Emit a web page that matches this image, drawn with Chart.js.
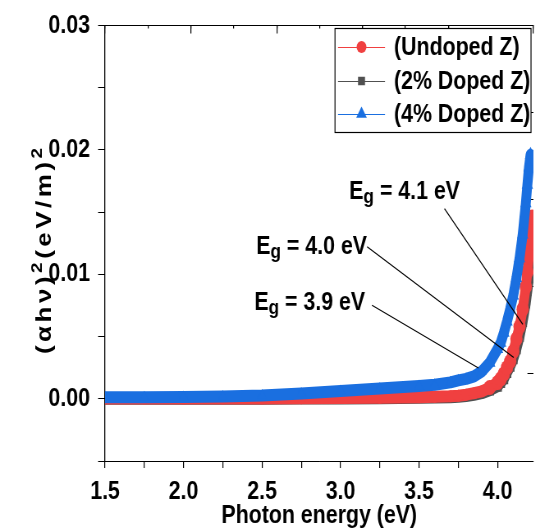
<!DOCTYPE html>
<html>
<head>
<meta charset="UTF-8">
<title>Tauc plot</title>
<style>
  html, body { margin: 0; padding: 0; overflow: hidden; background: #fff; }
  #wrap { width: 540px; height: 528px; }
</style>
</head>
<body>
<!-- drawn 658 px wide, shown 540 px wide: the figure is squeezed to 82% like the original -->
<div id="wrap"><canvas id="taucChart" width="658" height="528" style="width:540px;height:528px"></canvas></div>
<script src="https://cdn.jsdelivr.net/npm/chart.js/dist/chart.umd.min.js"></script>
<script>
// photon energy (eV), shared by the three samples
const energy = [1.5, 1.75, 2.0, 2.25, 2.5, 2.75, 3.0, 3.25, 3.5, 3.6, 3.7, 3.75, 3.8, 3.85, 3.9, 3.95,
                4.0, 4.02, 4.04, 4.06, 4.08, 4.10, 4.12, 4.14, 4.16, 4.18, 4.19, 4.20, 4.21, 4.22];

// (ahv)^2
const undoped = [0.00002, 0.00002, 0.00002, 0.00003, 0.00003, 0.00004, 0.00006, 0.00009, 0.00013, 0.00016,
                 0.0002, 0.00025, 0.00033, 0.00045, 0.0006, 0.0009, 0.0013, 0.0016, 0.0020, 0.0025,
                 0.0030, 0.0038, 0.0048, 0.0058, 0.0072, 0.0090, 0.0102, 0.0115, 0.0132, 0.0146];
const doped2 = [0.0, 0.0, 0.0, 0.00001, 0.00001, 0.00002, 0.00003, 0.00005, 0.00008, 0.0001,
                0.00013, 0.00016, 0.00022, 0.00032, 0.00045, 0.00068, 0.0010, 0.0013, 0.0016, 0.0021,
                0.0026, 0.0032, 0.0040, 0.0050, 0.0062, 0.0077, 0.0087, 0.0097, 0.0109, 0.0121];
const doped4 = [0.00012, 0.00013, 0.00015, 0.00019, 0.00026, 0.00042, 0.00062, 0.00082, 0.00102, 0.00113,
                0.00132, 0.00148, 0.0016, 0.0018, 0.0022, 0.0029, 0.0040, 0.0045, 0.0053, 0.0062,
                0.0072, 0.0083, 0.0097, 0.0113, 0.0132, 0.0157, 0.0172, 0.0186, 0.0196, null];

const seriesNames = ['(Undoped Z)', '(2% Doped Z)', '(4% Doped Z)'];
const gapValues = ['4.1', '4.0', '3.9'];   // band gaps, eV
const yTitle = ['(αhν)', '2', '(eV/m)', '2'];  // every second piece is a superscript

// where the Eg labels sit and where their leader lines point (axis units)
const gapNotes = [
  {text: [3.055, 0.01609], from: [3.662, 0.01527], to: [4.161, 0.00598]},
  {text: [2.463, 0.01162], from: [3.169, 0.01222], to: [4.103, 0.00332]},
  {text: [2.451, 0.00716], from: [3.200, 0.00752], to: [3.878, 0.00247]}
];

const SX = 658 / 540;   // canvas px per screen px, horizontally
const RED = '#f04040', GRAY = '#505050', BLUE = '#1a6fe0';
const FAMILY = '"Liberation Sans", Arial, sans-serif';
const FONT = {family: FAMILY, size: 26, weight: 'bold'};

function pts(vals) {
  return energy.map((e, i) => ({x: e, y: vals[i]}));
}
function isStep(v, step) {
  const k = v / step;
  return Math.abs(k - Math.round(k)) < 1e-6;
}

function series(i, vals, color, style, radius, order) {
  return {
    label: seriesNames[i],
    data: pts(vals),
    borderColor: color,
    backgroundColor: color,
    borderWidth: 12,
    borderJoinStyle: 'round',
    borderCapStyle: 'round',
    pointStyle: style,
    // markers only stick out of the band on the steep edge
    pointRadius: c => (c.raw && c.raw.x >= 3.95 ? radius + 1.5 : radius),
    pointBorderWidth: 0,
    spanGaps: false,
    order: order
  };
}

// y title with raised 2s, Eg labels, leader lines and the boxed legend
const overlay = {
  id: 'overlay',
  afterDraw(chart) {
    const {ctx, chartArea} = chart;
    const x = chart.scales.x, y = chart.scales.y;
    ctx.save();

    // y axis title, rotated
    ctx.save();
    ctx.translate(51 * SX, (chartArea.top + chartArea.bottom) / 2 + 6);
    ctx.rotate(-Math.PI / 2);
    ctx.fillStyle = '#000';
    ctx.textBaseline = 'alphabetic';
    ctx.textAlign = 'left';
    ctx.letterSpacing = '3.5px';
    const pieceFont = k => (k % 2 ? 'bold 19px ' : 'bold 26px ') + FAMILY;
    let total = 0;
    yTitle.forEach((t, k) => { ctx.font = pieceFont(k); total += ctx.measureText(t).width; });
    let px = -total / 2;
    yTitle.forEach((t, k) => {
      ctx.font = pieceFont(k);
      ctx.fillText(t, px, k % 2 ? -11 : 0);
      px += ctx.measureText(t).width;
    });
    ctx.restore();

    ctx.strokeStyle = '#000';
    ctx.fillStyle = '#000';
    ctx.lineWidth = 1.2;
    gapNotes.forEach((n, i) => {
      ctx.beginPath();
      ctx.moveTo(x.getPixelForValue(n.from[0]), y.getPixelForValue(n.from[1]));
      ctx.lineTo(x.getPixelForValue(n.to[0]), y.getPixelForValue(n.to[1]));
      ctx.stroke();

      let tx = x.getPixelForValue(n.text[0]);
      const ty = y.getPixelForValue(n.text[1]);
      ctx.textBaseline = 'alphabetic';
      ctx.textAlign = 'left';
      ctx.font = 'bold 26px ' + FAMILY;
      ctx.fillText('E', tx, ty);
      tx += ctx.measureText('E').width;
      ctx.font = 'bold 21px ' + FAMILY;
      ctx.fillText('g', tx, ty + 4);
      tx += ctx.measureText('g').width;
      ctx.font = 'bold 26px ' + FAMILY;
      ctx.fillText(' = ' + gapValues[i] + ' eV', tx, ty);
    });

    // legend box
    const bx = 335 * SX, by = 28, bw = 196 * SX, bh = 104;
    ctx.fillStyle = '#fff';
    ctx.fillRect(bx, by, bw, bh);
    ctx.strokeStyle = '#000';
    ctx.lineWidth = 1.2;
    ctx.strokeRect(bx, by + 0.5, bw, bh);
    const rows = [47, 81, 114];
    [0, 1, 2].forEach((i) => {
      const ds = chart.data.datasets[i];
      ctx.strokeStyle = ds.borderColor;
      ctx.fillStyle = ds.borderColor;
      ctx.lineWidth = 1;
      ctx.beginPath();
      ctx.moveTo(338 * SX, rows[i] + 0.5);
      ctx.lineTo(385 * SX, rows[i] + 0.5);
      ctx.stroke();
      Chart.helpers.drawPoint(ctx, {pointStyle: ds.pointStyle, radius: ds.pointStyle === 'triangle' ? 7.5 : 6, rotation: 0, borderWidth: 0}, 361.5 * SX, rows[i]);
      ctx.fillStyle = '#000';
      ctx.font = 'bold 26px ' + FAMILY;
      ctx.textBaseline = 'middle';
      ctx.fillText(ds.label, 394 * SX, rows[i] + 1);
    });
    ctx.restore();
  }
};

new Chart(document.getElementById('taucChart'), {
  type: 'line',
  data: {
    datasets: [
      series(0, undoped, RED, 'circle', 6, 1),
      series(1, doped2, GRAY, 'rect', 6, 2),
      series(2, doped4, BLUE, 'triangle', 6.5, 0)
    ]
  },
  plugins: [overlay],
  options: {
    responsive: false,
    animation: false,
    layout: {padding: {left: 0, top: 22, right: 2, bottom: 0}},
    plugins: {legend: {display: false}, tooltip: {enabled: false}},
    scales: {
      x: {
        type: 'linear', position: 'bottom', min: 1.5, max: 4.2286,
        border: {color: '#000', width: 1},
        grid: {drawOnChartArea: false, color: '#000', tickLength: 7, lineWidth: 1.2},
        ticks: {
          stepSize: 0.25, includeBounds: false, padding: 8, color: '#000', font: FONT,
          maxRotation: 0, autoSkip: false,
          callback: v => isStep(v, 0.5) ? v.toFixed(1) : ''
        },
        title: {display: true, text: 'Photon energy (eV)', color: '#000', font: FONT, padding: {top: 0, bottom: -3}},
        afterFit: s => { s.height = 67; }
      },
      y: {
        type: 'linear', position: 'left', min: -0.005, max: 0.03,
        border: {color: '#000', width: 1.3},
        grid: {drawOnChartArea: false, color: '#000', tickLength: 8.5},
        ticks: {
          stepSize: 0.005, includeBounds: false, padding: 9.8, color: '#000', font: FONT,
          callback: v => Math.abs(v) < 1e-9 ? '0.00' : (isStep(v, 0.01) ? v.toFixed(2) : '')
        },
        afterFit: s => { s.width = 128; }
      },
      // top and right frame with inward ticks
      xTop: {
        type: 'linear', position: 'top', min: 0, max: 4.992,
        border: {color: '#000', width: 1},
        grid: {drawOnChartArea: false, color: '#000', tickLength: -8, lineWidth: 1.2},
        ticks: {display: false, stepSize: 1},
        afterFit: s => { s.height = 0; }
      },
      xTopMinor: {
        type: 'linear', position: 'top', min: 0, max: 4.992,
        border: {display: false},
        grid: {drawOnChartArea: false, color: '#000', tickLength: -3, lineWidth: 1.2},
        ticks: {display: false, stepSize: 0.5},
        afterFit: s => { s.height = 0; }
      },
      yRight: {
        type: 'linear', position: 'right', min: 0, max: 5,
        border: {display: false},
        grid: {drawOnChartArea: false, color: '#000', tickLength: -7.3},
        ticks: {display: false, stepSize: 1},
        afterFit: s => { s.width = 0; }
      }
    }
  }
});
</script>
</body>
</html>
